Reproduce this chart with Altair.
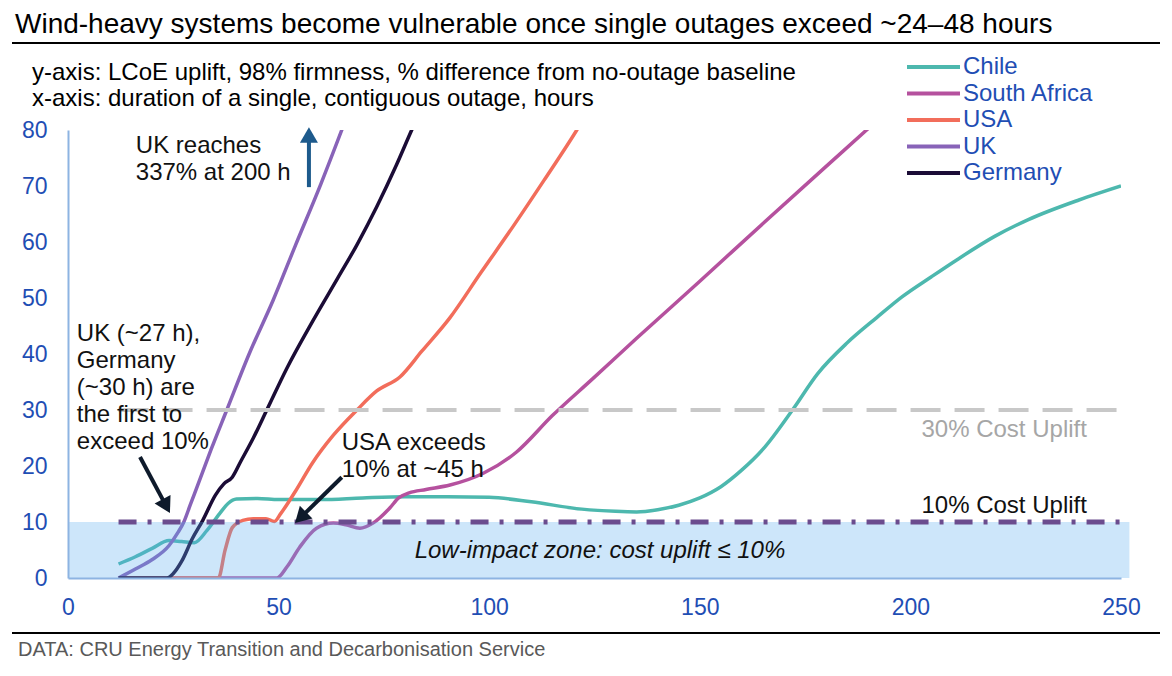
import math
import altair as alt
import pandas as pd

# ---------------- data ----------------
countries = ["Chile", "South Africa", "USA", "UK", "Germany"]
colors = ["#4DB8AE", "#B5519E", "#F26D5B", "#8863B8", "#1B0C36"]

chile_x = [12, 16, 20, 24, 27, 30, 33, 36, 38, 40, 45, 50, 60, 70, 80, 90, 100, 110,
           122, 130, 135, 140, 145, 150, 155, 160, 165, 172, 178, 185, 192, 198, 205, 211,
           220, 228, 240, 250]
chile_y = [2.5, 3.8, 5.3, 6.7, 6.5, 6.3, 8.5, 11.5, 13.3, 14.1, 14.2, 14.0, 14.0, 14.3, 14.5,
           14.5, 14.4, 13.6, 12.3, 11.9, 11.8, 12.2, 13.0, 14.3, 16.3, 19.3, 23.0, 30.0,
           36.5, 42.0, 46.5, 50.2, 53.8, 56.8, 61.0, 64.0, 67.5, 70.0]

safrica_x = [12, 30, 49.6, 52, 55, 59, 63, 66, 69.3, 72.4, 76.4, 78.5, 81, 85, 90.7, 98.6,
             106.5, 115, 124.6, 135, 150, 165, 180, 189.6, 194]
safrica_y = [0, 0, 0, 2, 5.5, 8.9, 9.8, 9.5, 8.9, 9.8, 12.5, 14.3, 15.2, 15.8, 16.6, 18.7,
             22.5, 29.0, 35.6, 42.8, 53.0, 63.3, 73.5, 80.0, 83.0]

usa_x = [12, 30, 35.7, 37.3, 39, 41.5, 44, 47, 49, 50.5, 54, 58, 63, 68.6, 73.3, 78.8, 84,
         90.7, 98, 105.6, 113, 120.8, 124]
usa_y = [0, 0, 0, 5, 9, 10.3, 10.6, 10.6, 10.1, 11.5, 15.5, 20.5, 25.5, 30, 33.4, 35.9,
         40.5, 46.5, 54.5, 62.7, 71, 80, 84]

uk_x = [12, 16, 20, 24, 26, 27.5, 29, 31, 34, 37.7, 43, 48.7, 54, 60, 65, 68]
uk_y = [0, 1.6, 3.3, 5.8, 8, 10, 13, 17, 23, 30, 40, 49.6, 59.4, 70.3, 80, 86]

germany_x = [12, 18, 23.5, 25, 27, 29.5, 32, 35, 37, 39, 41, 44, 47.2, 52, 58.2, 64, 68.6,
             73.3, 78, 81.6, 84]
germany_y = [0, 0, 0, 0.8, 3, 7, 10.3, 14.8, 16.8, 18, 20.8, 25, 30, 37.5, 46, 53.5, 59.5,
             66.3, 73.8, 80, 84]

x_ticks = [0, 50, 100, 150, 200, 250]
y_ticks = [0, 10, 20, 30, 40, 50, 60, 70, 80]

title_text = "Wind-heavy systems become vulnerable once single outages exceed ~24\u201348 hours"
subtitle_text = ("y-axis: LCoE uplift, 98% firmness, % difference from no-outage baseline\n"
                 "x-axis: duration of a single, contiguous outage, hours")
source_text = "DATA: CRU Energy Transition and Decarbonisation Service"

# annotations (data coordinates)
note_x = [16.1, 2.1, 65.0]
note_y = [75.9, 42.3, 22.9]
note_text = ["UK reaches\n337% at 200 h",
             "UK (~27 h),\nGermany\n(~30 h) are\nthe first to\nexceed 10%",
             "USA exceeds\n10% at ~45 h"]

ref_x0 = [12, 12]
ref_x1 = [250, 250]
ref_levels = [30, 10]
ref_labels = ["30% Cost Uplift", "10% Cost Uplift"]
ref_label_x = [241.9, 241.9]
ref_label_y = [25.2, 11.6]

zone_x = [0]
zone_x2 = [252]
zone_y = [0]
zone_y2 = [10]
zone_text = "Low-impact zone: cost uplift \u2264 10%"
zone_text_x = 126.3
zone_text_y = 3.6

arrow_x0 = [57.2, 17.1, 65.0]
arrow_y0 = [69.8, 21.6, 18.0]
arrow_x1 = [57.2, 24.2, 53.9]
arrow_y1 = [80.5, 11.6, 9.8]
arrow_kind = ["blue", "black", "black"]

# ---------------- layout / style ----------------
W, H = 1053, 448
X_MAX, Y_MAX = 250, 80
FONT = "Liberation Sans"
AXIS_BLUE = "#1F4EB4"
AXIS_LINE = "#8DB4E2"
HEAD = 324

x_scale = alt.Scale(domain=[0, X_MAX], nice=False, zero=False)
y_scale = alt.Scale(domain=[0, Y_MAX], nice=False)

x_axis = alt.Axis(values=x_ticks, title=None, grid=False, ticks=False, tickSize=0,
                  domainColor=AXIS_LINE, domainWidth=2, labelColor=AXIS_BLUE,
                  labelFontSize=23, labelFont=FONT, labelPadding=18, labelFlush=False,
                  zindex=1)
y_axis = alt.Axis(values=y_ticks, title=None, grid=False, ticks=False, tickSize=0,
                  domainColor=AXIS_LINE, domainWidth=2, labelColor=AXIS_BLUE,
                  labelFontSize=23, labelFont=FONT, labelPadding=21, labelFlush=False,
                  zindex=1)


def X(field):
    return alt.X(field, scale=x_scale, axis=x_axis)


def Y(field):
    return alt.Y(field, scale=y_scale, axis=y_axis)


rows = []
for name, xs, ys in [("Chile", chile_x, chile_y), ("South Africa", safrica_x, safrica_y),
                     ("USA", usa_x, usa_y), ("UK", uk_x, uk_y), ("Germany", germany_x, germany_y)]:
    for xv, yv in zip(xs, ys):
        rows.append({"country": name, "hours": xv, "uplift": yv})
series_df = pd.DataFrame(rows)

lines = alt.Chart(series_df).mark_line(strokeWidth=3.5, interpolate="monotone", clip=True).encode(
    x=X("hours:Q"),
    y=Y("uplift:Q"),
    color=alt.Color(
        "country:N",
        scale=alt.Scale(domain=countries, range=colors),
        sort=countries,
        legend=alt.Legend(
            title=None, orient="none", legendX=837, legendY=-75,
            symbolType="M-1,0L4.3,0", symbolSize=400, symbolStrokeWidth=4,
            labelFontSize=24, labelFont=FONT, labelColor=AXIS_BLUE, labelOffset=34,
            rowPadding=2.5, padding=0, offset=0,
        ),
    ),
)

zone_df = pd.DataFrame({"x": zone_x, "x2": zone_x2, "y": zone_y, "y2": zone_y2})
zone = alt.Chart(zone_df).mark_rect(color="#58ACEE", opacity=0.3).encode(
    x=X("x:Q"), x2="x2:Q", y=Y("y:Q"), y2="y2:Q"
)

ref_df = pd.DataFrame({"x": ref_x0, "x2": ref_x1, "y": ref_levels,
                       "label": ref_labels, "lx": ref_label_x, "ly": ref_label_y})
ref30 = alt.Chart(ref_df.iloc[[0]]).mark_rule(color="#C8C8C8", strokeWidth=4,
                                              strokeDash=[30, 14]).encode(
    x=X("x:Q"), x2="x2:Q", y=Y("y:Q"))
ref10 = alt.Chart(ref_df.iloc[[1]]).mark_rule(color="#6B4C8E", strokeWidth=5,
                                              strokeDash=[18, 11, 4, 11]).encode(
    x=X("x:Q"), x2="x2:Q", y=Y("y:Q"))
ref30_label = alt.Chart(ref_df.iloc[[0]]).mark_text(
    align="right", baseline="alphabetic", fontSize=24, font=FONT, color="#A6A6A6").encode(
    x=X("lx:Q"), y=Y("ly:Q"), text="label:N")
ref10_label = alt.Chart(ref_df.iloc[[1]]).mark_text(
    align="right", baseline="alphabetic", fontSize=24, font=FONT, color="#111111").encode(
    x=X("lx:Q"), y=Y("ly:Q"), text="label:N")

zone_label = alt.Chart(pd.DataFrame({"x": [zone_text_x], "y": [zone_text_y],
                                     "t": [zone_text]})).mark_text(
    align="center", baseline="alphabetic", fontSize=24, font=FONT, fontStyle="italic",
    color="#111111").encode(x=X("x:Q"), y=Y("y:Q"), text="t:N")

notes = alt.Chart(pd.DataFrame({"x": note_x, "y": note_y, "t": note_text})).mark_text(
    align="left", baseline="alphabetic", fontSize=24, font=FONT, color="#111111",
    lineBreak="\n", lineHeight=27).encode(x=X("x:Q"), y=Y("y:Q"), text="t:N")

# arrows: shaft + rotated triangle head
PX = W / X_MAX
PY = H / Y_MAX
h_head = 0.433 * math.sqrt(HEAD)
arrow_rows = []
for x0, y0, x1, y1, kind in zip(arrow_x0, arrow_y0, arrow_x1, arrow_y1, arrow_kind):
    dxp = (x1 - x0) * PX
    dyp = -(y1 - y0) * PY
    L = math.hypot(dxp, dyp)
    ux, uy = dxp / L, dyp / L
    cx = x1 - ux * h_head / PX
    cy = y1 + uy * h_head / PY
    ang = math.degrees(math.atan2(ux, -uy)) % 360
    arrow_rows.append({"x0": x0, "y0": y0, "cx": cx, "cy": cy, "angle": ang, "kind": kind})
arrow_df = pd.DataFrame(arrow_rows)


def arrow_layers(df, color):
    shaft = alt.Chart(df).mark_rule(color=color, strokeWidth=4).encode(
        x=X("x0:Q"), y=Y("y0:Q"), x2="cx:Q", y2="cy:Q")
    head = alt.Chart(df).mark_point(shape="triangle-up", filled=True, size=HEAD,
                                    color=color, opacity=1).encode(
        x=X("cx:Q"), y=Y("cy:Q"), angle=alt.Angle("angle:Q", scale=None))
    return [shaft, head]


arrows = (arrow_layers(arrow_df[arrow_df.kind == "blue"], "#1D5A8C")
          + arrow_layers(arrow_df[arrow_df.kind == "black"], "#0E1A2B"))

# header / footer (pixel positions relative to plot area)
hdr_df = pd.DataFrame({"title": [title_text], "sub": [subtitle_text], "src": [source_text]})
title = alt.Chart(hdr_df).mark_text(align="left", baseline="alphabetic", fontSize=28,
                                    font=FONT, color="#000000").encode(
    x=alt.value(-53), y=alt.value(-97), text="title:N")
subtitle = alt.Chart(hdr_df).mark_text(align="left", baseline="alphabetic", fontSize=24,
                                       font=FONT, color="#000000", lineBreak="\n",
                                       lineHeight=26).encode(
    x=alt.value(-36), y=alt.value(-50), text="sub:N")
source = alt.Chart(hdr_df).mark_text(align="left", baseline="alphabetic", fontSize=20,
                                     font=FONT, color="#595959").encode(
    x=alt.value(-50), y=alt.value(526), text="src:N")
top_rule = alt.Chart(hdr_df).mark_rule(color="#000000", strokeWidth=2).encode(
    x=alt.value(-56), x2=alt.value(1092), y=alt.value(-87))
bottom_rule = alt.Chart(hdr_df).mark_rule(color="#000000", strokeWidth=2).encode(
    x=alt.value(-56), x2=alt.value(1092), y=alt.value(503))

chart = alt.layer(
    lines, zone, ref30, ref10, ref30_label, ref10_label, zone_label, notes, *arrows,
    title, subtitle, source, top_rule, bottom_rule
).properties(
    width=W, height=H,
    autosize=alt.AutoSizeParams(type="none"),
    padding={"left": 60, "top": 122, "right": 43, "bottom": 90},
).configure(font=FONT).configure_view(stroke=None)

chart.save("out.html", embed_options={"renderer": "svg", "actions": False})
